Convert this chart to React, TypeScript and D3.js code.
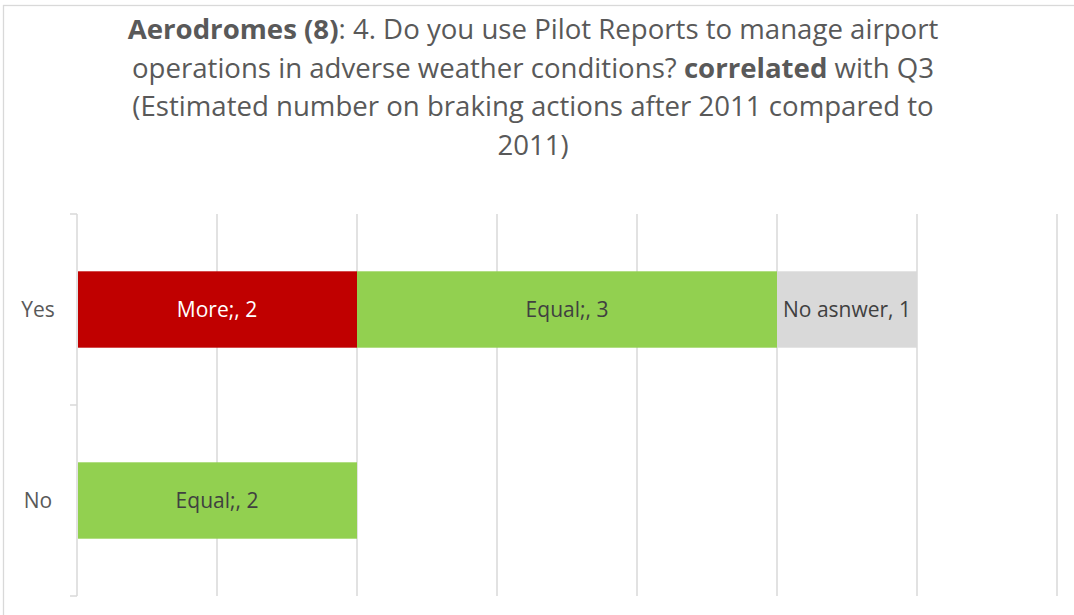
import React, { useEffect, useRef } from 'react';
import * as d3 from 'd3';

const categories = ['Yes', 'No'];
const seriesNames = ['More', 'Equal', 'No answer'];
const seriesLabels = ['More;', 'Equal;', 'No asnwer'];
const moreValues = [2, 0];
const equalValues = [3, 2];
const noAnswerValues = [1, 0];
const seriesColors = ['#c00000', '#92d050', '#d9d9d9'];
const labelColors = ['#ffffff', '#404040', '#404040'];
const xTicks = [0, 1, 2, 3, 4, 5, 6, 7];

export default function App() {
  const svgRef = useRef<SVGSVGElement>(null);

  useEffect(() => {
    document.body.style.margin = '0';
    if (!svgRef.current) return;
    const svg = d3.select(svgRef.current);
    svg.selectAll('*').remove();

    const width = 1074;
    const height = 615;
    const margin = { top: 214, right: 17, bottom: 19, left: 77 };
    const font = '"Open Sans", "Noto Sans", sans-serif';

    // chart area border
    svg.append('rect')
      .attr('x', 3.5).attr('y', 5.5)
      .attr('width', width + 10).attr('height', height + 10)
      .attr('fill', '#fff').attr('stroke', '#d9d9d9').attr('stroke-width', 1.3);

    // title
    const titleLines: { bold: string; rest: string; bold2?: string; rest2?: string }[] = [
      { bold: 'Aerodromes (8)', rest: ': 4. Do you use Pilot Reports to manage airport' },
      { bold: '', rest: 'operations in adverse weather conditions? ', bold2: 'correlated', rest2: ' with Q3' },
      { bold: '', rest: '(Estimated number on braking actions after 2011 compared to' },
      { bold: '', rest: '2011)' },
    ];
    titleLines.forEach((ln, i) => {
      const t = svg.append('text')
        .attr('x', 533).attr('y', 39 + i * 38.7)
        .attr('text-anchor', 'middle')
        .attr('font-family', font).attr('font-size', 27.6)
        .attr('fill', '#595959');
      if (ln.bold) t.append('tspan').attr('font-weight', 'bold').text(ln.bold);
      t.append('tspan').text(ln.rest);
      if (ln.bold2) t.append('tspan').attr('font-weight', 'bold').text(ln.bold2);
      if (ln.rest2) t.append('tspan').text(ln.rest2);
    });

    const x = d3.scaleLinear().domain([0, 7]).range([margin.left, width - margin.right]);
    const y = d3.scaleBand().domain(categories).range([margin.top, height - margin.bottom]).paddingInner(0.6).paddingOuter(0.3);
    const band = d3.scaleBand().domain(categories).range([margin.top, height - margin.bottom]);

    // gridlines
    svg.append('g').selectAll('line')
      .data(xTicks.slice(1))
      .join('line')
      .attr('x1', d => x(d)).attr('x2', d => x(d))
      .attr('y1', margin.top).attr('y2', height - margin.bottom)
      .attr('stroke', '#d9d9d9').attr('stroke-width', 1.5);

    // category axis
    svg.append('line')
      .attr('x1', x(0)).attr('x2', x(0))
      .attr('y1', margin.top).attr('y2', height - margin.bottom)
      .attr('stroke', '#d9d9d9').attr('stroke-width', 1.5);
    const tickYs = categories.map(c => band(c) as number).concat([height - margin.bottom]);
    svg.append('g').selectAll('line')
      .data(tickYs)
      .join('line')
      .attr('x1', x(0) - 7).attr('x2', x(0))
      .attr('y1', d => d).attr('y2', d => d)
      .attr('stroke', '#d9d9d9').attr('stroke-width', 1.5);

    svg.append('g').selectAll('text')
      .data(categories)
      .join('text')
      .attr('x', 38)
      .attr('y', d => (band(d) as number) + band.bandwidth() / 2)
      .attr('dy', '0.35em')
      .attr('text-anchor', 'middle')
      .attr('font-family', font).attr('font-size', 21)
      .attr('fill', '#595959')
      .text(d => d);

    // stacked bars
    const rows = categories.map((c, i) => ({
      category: c,
      More: moreValues[i],
      Equal: equalValues[i],
      'No answer': noAnswerValues[i],
    }));
    const stacked = d3.stack<any>().keys(seriesNames)(rows);

    stacked.forEach((layer, si) => {
      const g = svg.append('g');
      const segs = layer.filter(d => d[1] - d[0] > 0);
      g.selectAll('rect')
        .data(segs)
        .join('rect')
        .attr('x', d => x(d[0]) + (d[0] === 0 ? 1 : 0))
        .attr('y', d => y(d.data.category) as number)
        .attr('width', d => x(d[1]) - x(d[0]) - (d[0] === 0 ? 1 : 0))
        .attr('height', y.bandwidth())
        .attr('fill', seriesColors[si]);
      g.selectAll('text')
        .data(segs)
        .join('text')
        .attr('x', d => (x(d[0]) + x(d[1])) / 2)
        .attr('y', d => (y(d.data.category) as number) + y.bandwidth() / 2)
        .attr('dy', '0.35em')
        .attr('text-anchor', 'middle')
        .attr('font-family', font).attr('font-size', 21)
        .attr('fill', labelColors[si])
        .text(d => `${seriesLabels[si]}, ${d[1] - d[0]}`);
    });
  }, []);

  return <svg ref={svgRef} width={1074} height={615} style={{ display: 'block' }} />;
}
